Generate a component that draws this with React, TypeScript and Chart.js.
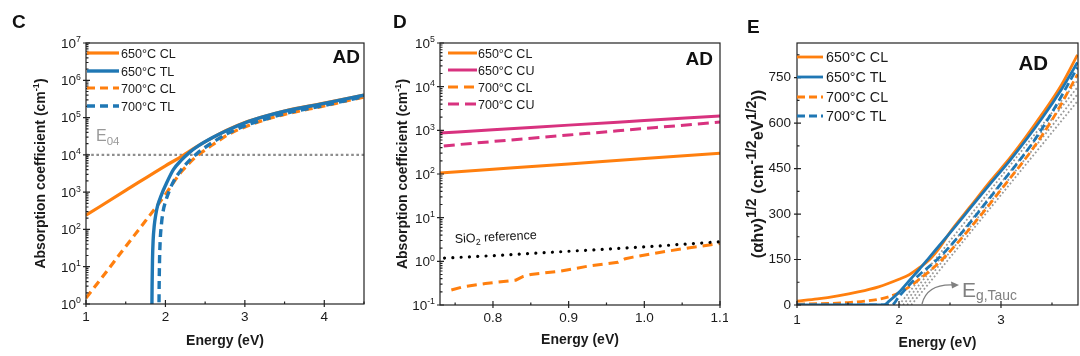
import React, { useEffect, useRef } from "react";
import { Chart, registerables } from "chart.js";

Chart.register(...registerables);

const FONT = '"Liberation Sans", Arial, Helvetica, sans-serif';
const ORANGE = "#ff7f0e";
const BLUE = "#1f77b4";
const PINK = "#d8327f";
const E04_GRAY = "#8e8e8e";
const TAUC_GRAY = "#9a9a9a";
const TEXT = "#1a1a1a";

// ---------------- Panel C: absorption coefficient (log) ----------------
const cXTicks = [1, 2, 3, 4];
const cXLabels = ["1", "2", "3", "4"];
const cXMinor = [1.5, 2.5, 3.5, 4.5];
const cYExps = [0, 1, 2, 3, 4, 5, 6, 7];

const cCL650E = [1.0, 1.5, 2.0, 2.2, 2.3, 2.4, 2.6, 2.8, 3.0, 3.25, 3.5, 4.0, 4.5];
const cCL650A = [240, 1110, 5100, 9000, 12500, 17000, 29500, 48500, 73500, 108000, 150000, 243000, 400000];
const cTL650E = [1.829, 1.832, 1.837, 1.845, 1.86, 1.88, 1.9, 1.95, 2.0, 2.1, 2.2, 2.3, 2.4, 2.6, 2.8, 3.0, 3.25, 3.5, 4.0, 4.5];
const cTL650A = [0.5, 3, 15, 50, 130, 260, 420, 850, 1500, 4000, 7200, 11500, 16600, 29500, 47900, 72400, 107000, 148000, 240000, 398000];
const cCL700E = [1.0, 1.25, 1.5, 1.75, 2.0, 2.1, 2.2, 2.3, 2.4, 2.5, 2.6, 2.8, 3.0, 3.25, 3.5, 4.0, 4.5];
const cCL700A = [1.45, 7, 35, 170, 870, 1800, 3500, 6000, 9500, 13500, 19000, 36000, 56000, 86000, 122000, 205000, 355000];
const cTL700E = [1.918, 1.921, 1.926, 1.934, 1.95, 1.97, 2.0, 2.05, 2.1, 2.2, 2.3, 2.4, 2.6, 2.8, 3.0, 3.25, 3.5, 4.0, 4.5];
const cTL700A = [0.5, 3, 15, 50, 140, 300, 550, 1100, 1900, 4000, 7000, 11000, 22000, 39000, 60000, 90000, 127000, 212000, 365000];
const cE04E = [1, 4.5];
const cE04A = [1e4, 1e4];

// ---------------- Panel D: sub-gap absorption (log) ----------------
const dXTicks = [0.8, 0.9, 1.0, 1.1];
const dXLabels = ["0.8", "0.9", "1.0", "1.1"];
const dXMinor = [0.75, 0.85, 0.95, 1.05];
const dYExps = [-1, 0, 1, 2, 3, 4, 5];

const dE = [0.73, 0.8, 0.9, 1.0, 1.1];
const dCL650 = [105, 128, 170, 227, 300];
const dCU650 = [870, 1030, 1316, 1678, 2140];
const dCU700E = [0.735, 0.8, 0.9, 1.0, 1.1];
const dCU700 = [440, 555, 781, 1100, 1550];
const dCL700E = [0.745, 0.76, 0.79, 0.83, 0.84, 0.85, 0.89, 0.93, 0.965, 0.975, 0.985, 1.02, 1.06, 1.1];
const dCL700 = [0.22, 0.26, 0.31, 0.37, 0.45, 0.5, 0.6, 0.8, 0.95, 1.15, 1.25, 1.6, 2.05, 2.55];
const dSiO2E = [0.736, 0.8, 0.9, 1.0, 1.1];
const dSiO2 = [1.19, 1.35, 1.7, 2.15, 2.8];

// ---------------- Panel E: Tauc plot ----------------
const eXTicks = [1, 2, 3];
const eXLabels = ["1", "2", "3"];
const eXMinor = [1.5, 2.5, 3.5];
const eYTicks = [0, 150, 300, 450, 600, 750];
const eYLabels = ["0", "150", "300", "450", "600", "750"];
const eYMinor = [75, 225, 375, 525, 675, 825];

const eCL650E = [1.0, 1.2, 1.4, 1.6, 1.8, 2.0, 2.1, 2.2, 2.3, 2.4, 2.5, 2.7, 2.9, 3.1, 3.4, 3.6, 3.75];
const eCL650 = [13, 20, 30, 43, 60, 85, 100, 123, 150, 190, 240, 325, 410, 490, 628, 730, 825];
const eTL650E = [1.0, 1.85, 1.9, 2.0, 2.1, 2.2, 2.3, 2.5, 2.7, 2.9, 3.1, 3.4, 3.6, 3.75];
const eTL650 = [0, 0, 12, 42, 80, 118, 158, 238, 320, 402, 482, 615, 715, 800];
const eCL700E = [1.0, 1.3, 1.5, 1.7, 1.8, 1.9, 2.0, 2.1, 2.2, 2.3, 2.4, 2.6, 2.8, 3.0, 3.3, 3.5, 3.75];
const eCL700 = [3, 5, 8, 14, 19, 27, 40, 60, 85, 112, 142, 215, 295, 380, 510, 610, 760];
const eTL700E = [1.0, 1.93, 2.0, 2.1, 2.2, 2.3, 2.4, 2.6, 2.8, 3.0, 3.3, 3.5, 3.75];
const eTL700 = [0, 0, 28, 66, 100, 128, 158, 232, 315, 400, 530, 635, 783];
const eTaucStart = [2.0, 2.04, 2.08, 2.12];
const eTaucEndE = 3.75;
const eTaucEndY = [740, 718, 695, 672];

// ---------------- helpers ----------------
type Seg = { t: string; s?: "sup" | "sub" };
type RichOpts = {
  size: number;
  bold?: boolean;
  color?: string;
  align?: "left" | "center" | "right";
  supScale?: number;
  subScale?: number;
  subShift?: number;
};

const pts = (xs: number[], ys: number[]) => xs.map((x, i) => ({ x, y: ys[i] }));

function drawRich(ctx: CanvasRenderingContext2D, segs: Seg[], x: number, y: number, o: RichOpts) {
  const weight = o.bold ? "bold " : "";
  const supS = o.supScale ?? 0.65;
  const subS = o.subScale ?? 0.65;
  const sizeOf = (sg: Seg) => (sg.s === "sup" ? o.size * supS : sg.s === "sub" ? o.size * subS : o.size);
  ctx.save();
  ctx.textAlign = "left";
  ctx.textBaseline = "alphabetic";
  ctx.fillStyle = o.color ?? TEXT;
  const ws = segs.map((sg) => {
    ctx.font = `${weight}${sizeOf(sg)}px ${FONT}`;
    return ctx.measureText(sg.t).width;
  });
  const total = ws.reduce((a, b) => a + b, 0);
  let cx = o.align === "center" ? x - total / 2 : o.align === "right" ? x - total : x;
  segs.forEach((sg, i) => {
    ctx.font = `${weight}${sizeOf(sg)}px ${FONT}`;
    const dy = sg.s === "sup" ? -o.size * 0.4 : sg.s === "sub" ? o.size * (o.subShift ?? 0.25) : 0;
    ctx.fillText(sg.t, cx, y + dy);
    cx += ws[i];
  });
  ctx.restore();
}

type Decor = {
  letter: { t: string; x: number; y: number };
  tag: { dx: number; y: number; size: number };
  yTitle: { segs: Seg[]; x: number; size: number; supScale?: number };
  xTitle: { t: string; y: number };
  logExps?: number[];
  xMajor: number[];
  xMinor: number[];
  yMajor?: number[];
  yMinor?: number[];
  legend: { x0: number; x1: number; tx: number; rows: number[]; size: number; items: { label: string; ds: number }[] };
  extra?: (ctx: CanvasRenderingContext2D, chart: any) => void;
};

function decorPlugin(d: Decor) {
  return {
    id: "decor",
    afterDatasetsDraw(chart: any) {
      const { ctx, chartArea: a, scales } = chart;
      const xs = scales.x;
      const ys = scales.y;
      ctx.save();
      ctx.strokeStyle = "#222";
      ctx.lineWidth = 1.2;
      ctx.setLineDash([]);
      ctx.strokeRect(a.left, a.top, a.right - a.left, a.bottom - a.top);
      ctx.beginPath();
      d.xMajor.forEach((v) => {
        const px = xs.getPixelForValue(v);
        ctx.moveTo(px, a.bottom + 3);
        ctx.lineTo(px, a.bottom - 4);
      });
      d.xMinor.forEach((v) => {
        const px = xs.getPixelForValue(v);
        ctx.moveTo(px, a.bottom);
        ctx.lineTo(px, a.bottom - 2.5);
      });
      let yMajor = d.yMajor ?? [];
      let yMinor = d.yMinor ?? [];
      if (d.logExps) {
        yMajor = d.logExps.map((n) => Math.pow(10, n));
        yMinor = [];
        for (let i = 0; i < d.logExps.length - 1; i++) {
          for (let k = 2; k <= 9; k++) yMinor.push(k * Math.pow(10, d.logExps[i]));
        }
      }
      yMajor.forEach((v) => {
        const py = ys.getPixelForValue(v);
        ctx.moveTo(a.left - 3, py);
        ctx.lineTo(a.left + 4, py);
      });
      yMinor.forEach((v) => {
        const py = ys.getPixelForValue(v);
        if (py < a.top || py > a.bottom) return;
        ctx.moveTo(a.left, py);
        ctx.lineTo(a.left + 2.5, py);
      });
      ctx.stroke();
      ctx.restore();
    },
    afterDraw(chart: any) {
      const { ctx, chartArea: a, scales } = chart;
      const ys = scales.y;
      drawRich(ctx, [{ t: d.letter.t }], d.letter.x, d.letter.y, { size: 19, bold: true, color: "#111" });
      drawRich(ctx, [{ t: "AD" }], a.right - d.tag.dx, d.tag.y, { size: d.tag.size, bold: true, color: "#111", align: "right" });
      if (d.logExps) {
        d.logExps.forEach((n) => {
          const py = ys.getPixelForValue(Math.pow(10, n));
          drawRich(ctx, [{ t: "10" }, { t: String(n), s: "sup" }], a.left - 5, py + 13.5 * 0.36, {
            size: 13.5,
            color: TEXT,
            align: "right",
          });
        });
      }
      ctx.save();
      ctx.translate(d.yTitle.x, (a.top + a.bottom) / 2);
      ctx.rotate(-Math.PI / 2);
      drawRich(ctx, d.yTitle.segs, 0, d.yTitle.size * 0.36, {
        size: d.yTitle.size,
        bold: true,
        align: "center",
        color: TEXT,
        supScale: d.yTitle.supScale,
      });
      ctx.restore();
      drawRich(ctx, [{ t: d.xTitle.t }], (a.left + a.right) / 2, d.xTitle.y, { size: 14, bold: true, align: "center", color: TEXT });
      const L = d.legend;
      L.items.forEach((it, i) => {
        const ds = chart.data.datasets[it.ds];
        const y = L.rows[i];
        ctx.save();
        ctx.strokeStyle = ds.borderColor;
        ctx.lineWidth = ds.borderWidth;
        ctx.lineCap = ds.borderCapStyle ?? "butt";
        ctx.setLineDash(ds.borderDash ?? []);
        ctx.beginPath();
        ctx.moveTo(L.x0, y);
        ctx.lineTo(L.x1, y);
        ctx.stroke();
        ctx.restore();
        drawRich(ctx, [{ t: it.label }], L.tx, y + L.size * 0.36, { size: L.size, color: TEXT });
      });
      if (d.extra) d.extra(ctx, chart);
    },
  };
}

function makeOptions(o: {
  xMin: number;
  xMax: number;
  xTicks: number[];
  xLabels: string[];
  xPad: number;
  yLog: boolean;
  yMin: number;
  yMax: number;
  yTicks?: number[];
  yLabels?: string[];
  yWidth: number;
  xHeight: number;
  padTop: number;
  padRight: number;
}) {
  return {
    responsive: false,
    animation: false,
    devicePixelRatio: 1,
    events: [],
    layout: { padding: { top: o.padTop, right: o.padRight, left: 0, bottom: 0 } },
    plugins: { legend: { display: false }, tooltip: { enabled: false }, title: { display: false } },
    elements: { point: { radius: 0, hoverRadius: 0 } },
    scales: {
      x: {
        type: "linear",
        min: o.xMin,
        max: o.xMax,
        afterBuildTicks: (s: any) => {
          s.ticks = o.xTicks.map((v) => ({ value: v }));
        },
        afterFit: (s: any) => {
          s.height = o.xHeight;
          s.paddingLeft = 0;
          s.paddingRight = 0;
        },
        ticks: {
          autoSkip: false,
          maxRotation: 0,
          padding: o.xPad,
          color: TEXT,
          font: { family: FONT, size: 13.5 },
          callback: (v: number) => {
            const i = o.xTicks.findIndex((t) => Math.abs(t - v) < 1e-9);
            return i >= 0 ? o.xLabels[i] : "";
          },
        },
        grid: { display: false, drawTicks: false },
        border: { display: false },
      },
      y: {
        type: o.yLog ? "logarithmic" : "linear",
        min: o.yMin,
        max: o.yMax,
        afterBuildTicks: (s: any) => {
          if (o.yTicks) s.ticks = o.yTicks.map((v) => ({ value: v }));
        },
        afterFit: (s: any) => {
          s.width = o.yWidth;
          s.paddingTop = 0;
          s.paddingBottom = 0;
        },
        ticks: {
          display: !o.yLog,
          autoSkip: false,
          padding: 6,
          color: TEXT,
          font: { family: FONT, size: 13.5 },
          callback: (v: number) => {
            if (!o.yTicks || !o.yLabels) return "";
            const i = o.yTicks.findIndex((t) => Math.abs(t - v) < 1e-9);
            return i >= 0 ? o.yLabels[i] : "";
          },
        },
        grid: { display: false, drawTicks: false },
        border: { display: false },
      },
    },
  };
}

const line = (label: string, data: any[], color: string, width: number, extra: any = {}) => ({
  label,
  data,
  borderColor: color,
  backgroundColor: color,
  borderWidth: width,
  fill: false,
  pointRadius: 0,
  cubicInterpolationMode: "monotone",
  ...extra,
});

// ---------------- chart builders ----------------
function buildC() {
  const datasets = [
    line("650°C CL", pts(cCL650E, cCL650A), ORANGE, 3.2, { order: 2 }),
    line("650°C TL", pts(cTL650E, cTL650A), BLUE, 3.4, { order: 0 }),
    line("700°C CL", pts(cCL700E, cCL700A), ORANGE, 3.2, { order: 3, borderDash: [8, 5] }),
    line("700°C TL", pts(cTL700E, cTL700A), BLUE, 3.4, { order: 1, borderDash: [8, 5] }),
    line("E04", pts(cE04E, cE04A), E04_GRAY, 2.4, { order: 4, borderDash: [2.6, 2.6], cubicInterpolationMode: "default" }),
  ];
  const decor: Decor = {
    letter: { t: "C", x: 12, y: 28 },
    tag: { dx: 4, y: 63, size: 19 },
    yTitle: { segs: [{ t: "Absorption coefficient (cm" }, { t: "-1", s: "sup" }, { t: ")" }], x: 40, size: 14 },
    xTitle: { t: "Energy (eV)", y: 345 },
    logExps: cYExps,
    xMajor: cXTicks,
    xMinor: cXMinor,
    legend: {
      x0: 87,
      x1: 119,
      tx: 121,
      rows: [53, 71, 88, 106],
      size: 12.6,
      items: [
        { label: "650°C CL", ds: 0 },
        { label: "650°C TL", ds: 1 },
        { label: "700°C CL", ds: 2 },
        { label: "700°C TL", ds: 3 },
      ],
    },
    extra: (ctx) => {
      drawRich(ctx, [{ t: "E" }, { t: "04", s: "sub" }], 96, 141, { size: 16, color: "#999", subScale: 0.72, subShift: 0.22 });
    },
  };
  return {
    type: "line",
    data: { datasets },
    options: makeOptions({
      xMin: 1, xMax: 4.5, xTicks: cXTicks, xLabels: cXLabels, xPad: 5,
      yLog: true, yMin: 1, yMax: 1e7,
      yWidth: 86, xHeight: 52, padTop: 43, padRight: 8,
    }),
    plugins: [decorPlugin(decor)],
  };
}

function buildD() {
  const datasets = [
    line("650°C CL", pts(dE, dCL650), ORANGE, 3, { order: 3 }),
    line("650°C CU", pts(dE, dCU650), PINK, 3, { order: 1 }),
    line("700°C CL", pts(dCL700E, dCL700), ORANGE, 3, { order: 4, borderDash: [10, 6], cubicInterpolationMode: "default" }),
    line("700°C CU", pts(dCU700E, dCU700), PINK, 3, { order: 2, borderDash: [11, 6] }),
    line("SiO2 reference", pts(dSiO2E, dSiO2), "#000", 3.2, { order: 0, borderDash: [0.01, 8.3], borderCapStyle: "round" }),
  ];
  const decor: Decor = {
    letter: { t: "D", x: 21, y: 28 },
    tag: { dx: 7, y: 65, size: 19 },
    yTitle: { segs: [{ t: "Absorption coefficient (cm" }, { t: "-1", s: "sup" }, { t: ")" }], x: 30, size: 14 },
    xTitle: { t: "Energy (eV)", y: 344 },
    logExps: dYExps,
    xMajor: dXTicks,
    xMinor: dXMinor,
    legend: {
      x0: 76,
      x1: 105,
      tx: 106,
      rows: [53, 70, 87, 104],
      size: 12.5,
      items: [
        { label: "650°C CL", ds: 0 },
        { label: "650°C CU", ds: 1 },
        { label: "700°C CL", ds: 2 },
        { label: "700°C CU", ds: 3 },
      ],
    },
    extra: (ctx) => {
      ctx.save();
      ctx.translate(83, 243);
      ctx.rotate(-0.05);
      drawRich(ctx, [{ t: "SiO" }, { t: "2", s: "sub" }, { t: " reference" }], 0, 0, { size: 12.5, color: "#111", subScale: 0.7 });
      ctx.restore();
    },
  };
  return {
    type: "line",
    data: { datasets },
    options: makeOptions({
      xMin: 0.73, xMax: 1.1, xTicks: dXTicks, xLabels: dXLabels, xPad: 5,
      yLog: true, yMin: 0.1, yMax: 1e5,
      yWidth: 68, xHeight: 51, padTop: 43, padRight: 8,
    }),
    plugins: [decorPlugin(decor)],
  };
}

function buildE() {
  const datasets: any[] = [
    line("650°C CL", pts(eCL650E, eCL650), ORANGE, 2.8, { order: 2 }),
    line("650°C TL", pts(eTL650E, eTL650), BLUE, 2.8, { order: 0 }),
    line("700°C CL", pts(eCL700E, eCL700), ORANGE, 2.8, { order: 3, borderDash: [8, 4] }),
    line("700°C TL", pts(eTL700E, eTL700), BLUE, 2.8, { order: 1, borderDash: [8, 4] }),
  ];
  eTaucStart.forEach((e0, i) => {
    datasets.push(
      line(`Tauc fit ${i + 1}`, [{ x: e0, y: 0 }, { x: eTaucEndE, y: eTaucEndY[i] }], TAUC_GRAY, 1.8, {
        order: 5 + i,
        borderDash: [1.8, 2.2],
        cubicInterpolationMode: "default",
      })
    );
  });
  const decor: Decor = {
    letter: { t: "E", x: 19, y: 33 },
    tag: { dx: 30, y: 70, size: 20.5 },
    yTitle: {
      segs: [
        { t: "(αhν)" },
        { t: "1/2", s: "sup" },
        { t: " (cm" },
        { t: "-1/2", s: "sup" },
        { t: "eV" },
        { t: "1/2", s: "sup" },
        { t: "))" },
      ],
      x: 29,
      size: 16.5,
      supScale: 0.85,
    },
    xTitle: { t: "Energy (eV)", y: 347 },
    xMajor: eXTicks,
    xMinor: eXMinor,
    yMajor: eYTicks,
    yMinor: eYMinor,
    legend: {
      x0: 69,
      x1: 95,
      tx: 98,
      rows: [57, 77, 97, 116],
      size: 14.3,
      items: [
        { label: "650°C CL", ds: 0 },
        { label: "650°C TL", ds: 1 },
        { label: "700°C CL", ds: 2 },
        { label: "700°C TL", ds: 3 },
      ],
    },
    extra: (ctx) => {
      const g = "#808080";
      ctx.save();
      ctx.strokeStyle = g;
      ctx.fillStyle = g;
      ctx.lineWidth = 1.3;
      ctx.beginPath();
      ctx.moveTo(194, 304);
      ctx.quadraticCurveTo(199, 284, 225, 285);
      ctx.stroke();
      ctx.beginPath();
      ctx.moveTo(231, 285);
      ctx.lineTo(223, 281.5);
      ctx.lineTo(224, 288.5);
      ctx.closePath();
      ctx.fill();
      ctx.restore();
      drawRich(ctx, [{ t: "E" }, { t: "g,Tauc", s: "sub" }], 234, 297, { size: 21, color: g, subScale: 0.66, subShift: 0.15 });
    },
  };
  return {
    type: "line",
    data: { datasets },
    options: makeOptions({
      xMin: 1, xMax: 3.755, xTicks: eXTicks, xLabels: eXLabels, xPad: 7,
      yLog: false, yMin: 0, yMax: 864, yTicks: eYTicks, yLabels: eYLabels,
      yWidth: 69, xHeight: 51, padTop: 43, padRight: 2,
    }),
    plugins: [decorPlugin(decor)],
  };
}

function Panel({ left, width, build }: { left: number; width: number; build: () => any }) {
  const ref = useRef<HTMLCanvasElement>(null);
  useEffect(() => {
    const chart = new Chart(ref.current as HTMLCanvasElement, build());
    return () => chart.destroy();
  }, []);
  return (
    <canvas
      ref={ref}
      width={width}
      height={356}
      style={{ position: "absolute", left, top: 0, width, height: 356 }}
    />
  );
}

export default function App() {
  return (
    <div style={{ position: "absolute", left: 0, top: 0, width: 1080, height: 356, background: "#fff", overflow: "hidden" }}>
      <Panel left={0} width={372} build={buildC} />
      <Panel left={372} width={356} build={buildD} />
      <Panel left={728} width={352} build={buildE} />
    </div>
  );
}
